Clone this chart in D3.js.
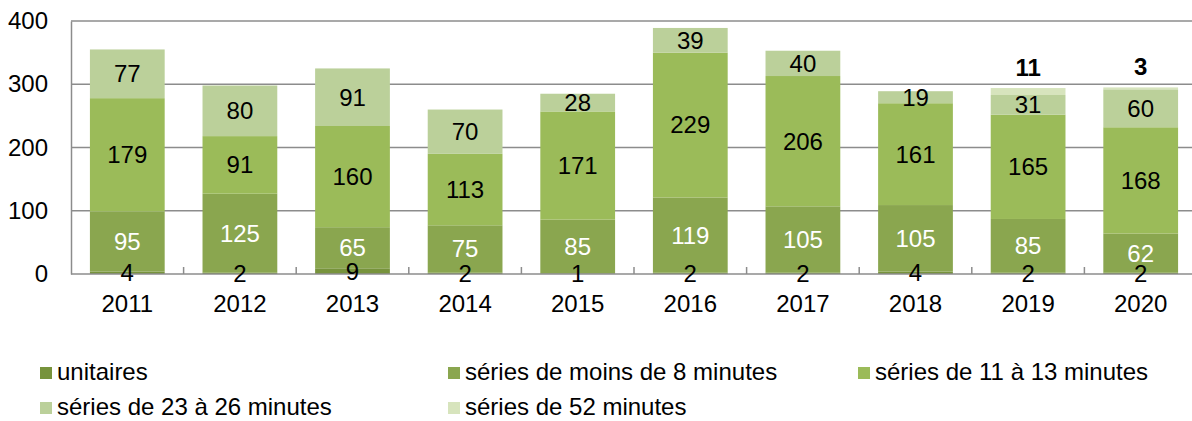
<!DOCTYPE html>
<html><head><meta charset="utf-8">
<script src="https://cdn.jsdelivr.net/npm/d3@7"></script>
<style>body{margin:0;background:#fff}svg{display:block}text{font-family:"Liberation Sans",Arial,sans-serif}</style>
</head><body><svg id="c" width="1192" height="421"></svg>
<script>
const years = ["2011","2012","2013","2014","2015","2016","2017","2018","2019","2020"];
const unitaires = [4,2,9,2,1,2,2,4,2,2];
const moins8 = [95,125,65,75,85,119,105,105,85,62];
const s11_13 = [179,91,160,113,171,229,206,161,165,168];
const s23_26 = [77,80,91,70,28,39,40,19,31,60];
const s52 = [0,0,0,0,0,0,0,0,11,3];
const seriesNames = ["unitaires","séries de moins de 8 minutes","séries de 11 à 13 minutes","séries de 23 à 26 minutes","séries de 52 minutes"];
const yTicks = [0,100,200,300,400];

const colors = ["#77933c","#8aa64f","#9bbb59","#bbd09a","#d7e4bd"];
const labelColors = ["#000","#fff","#000","#000","#000"];
const keys = ["u","m","a","b","c"];
const rows = years.map((y,i)=>({year:y,u:unitaires[i],m:moins8[i],a:s11_13[i],b:s23_26[i],c:s52[i]}));
const stack = d3.stack().keys(keys)(rows);

const FS = 24;
const svg = d3.select("#c");
const pL = 71, pR = 1197, pT = 21, pB = 274;
const x = d3.scaleBand().domain(years).range([pL,pR]).paddingInner(0.336).paddingOuter(0.168);
const y = d3.scaleLinear().domain([0,400]).range([pB,pT]);

// gridlines
svg.append("g").selectAll("line").data(yTicks.filter(t=>t>0)).join("line")
  .attr("x1",pL).attr("x2",pR).attr("y1",d=>y(d)).attr("y2",d=>y(d))
  .attr("stroke","#8c8c8c").attr("stroke-width",1.5);

// bars
stack.forEach((s,k)=>{
  svg.append("g").selectAll("rect").data(s).join("rect")
    .attr("x",d=>x(d.data.year)).attr("width",x.bandwidth())
    .attr("y",d=>y(d[1])).attr("height",d=>y(d[0])-y(d[1]))
    .attr("fill",colors[k]);
});

// axes
const yAxis = d3.axisLeft(y).tickValues(yTicks).tickSize(0).tickPadding(23);
const gy = svg.append("g").attr("transform",`translate(${pL},0)`).call(yAxis);
gy.select(".domain").attr("stroke","#8c8c8c").attr("stroke-width",1.5);
gy.selectAll("text").attr("font-size",FS).attr("fill","#000").attr("font-family","Liberation Sans, Arial, sans-serif");

const xAxis = d3.axisBottom(x).tickSize(0).tickPadding(21);
const gx = svg.append("g").attr("transform",`translate(0,${pB})`).call(xAxis);
gx.select(".domain").remove();
gx.selectAll("text").attr("font-size",FS).attr("fill","#000").attr("font-family","Liberation Sans, Arial, sans-serif");
svg.append("line").attr("x1",pL).attr("x2",pR).attr("y1",pB).attr("y2",pB)
  .attr("stroke","#8c8c8c").attr("stroke-width",1.5);
// category separators (inside ticks)
const seps = years.slice(1).map(yr=>x(yr)-x.step()*x.paddingInner()/2);
svg.append("g").selectAll("line").data(seps).join("line")
  .attr("x1",d=>d).attr("x2",d=>d).attr("y1",pB).attr("y2",pB-7)
  .attr("stroke","#8c8c8c").attr("stroke-width",1.5);

// value labels
stack.forEach((s,k)=>{
  if(k===4){
    svg.append("g").selectAll("text").data(s.filter(d=>d[1]-d[0]>0)).join("text")
      .attr("x",d=>x(d.data.year)+x.bandwidth()/2).attr("y",d=>y(d[1])-12)
      .attr("text-anchor","middle").attr("font-size",FS).attr("font-weight","bold").attr("fill","#000")
      .text(d=>d[1]-d[0]);
  } else {
    svg.append("g").selectAll("text").data(s).join("text")
      .attr("x",d=>x(d.data.year)+x.bandwidth()/2).attr("y",d=>(y(d[0])+y(d[1]))/2)
      .attr("dy","0.35em").attr("text-anchor","middle").attr("font-size",FS).attr("fill",labelColors[k])
      .text(d=>d[1]-d[0]);
  }
});

// legend
const legPos = [[40,367],[448,367],[858,367],[40,402],[448,402]];
const lg = svg.append("g").selectAll("g").data(seriesNames).join("g")
  .attr("transform",(d,i)=>`translate(${legPos[i][0]},${legPos[i][1]})`);
lg.append("rect").attr("width",12).attr("height",12).attr("fill",(d,i)=>colors[i]);
lg.append("text").attr("x",17).attr("y",13).attr("font-size",FS).attr("fill","#000").text(d=>d);
</script></body></html>
